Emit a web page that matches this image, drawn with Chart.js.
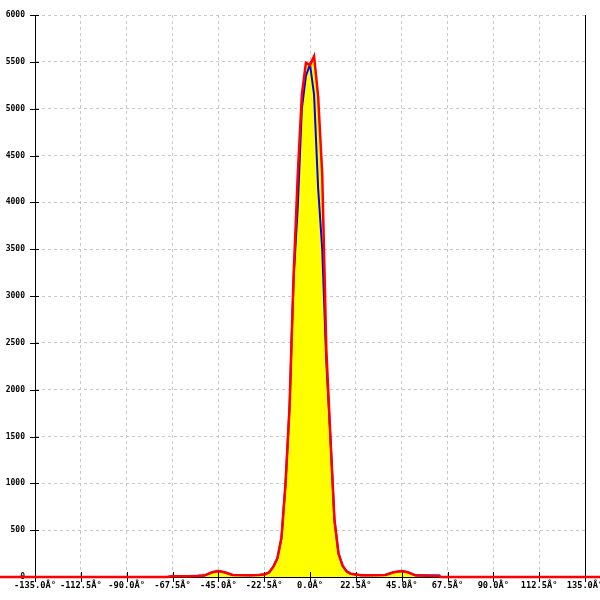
<!DOCTYPE html>
<html>
<head>
<meta charset="utf-8">
<script src="https://cdn.jsdelivr.net/npm/chart.js@4/dist/chart.umd.min.js"></script>
<style>
  html, body { margin: 0; padding: 0; background: #fff; }
  #wrap { width: 600px; height: 600px; }
</style>
</head>
<body>
<div id="wrap"><canvas id="c" width="600" height="600"></canvas></div>
<script>
// angle (deg) and intensity readings
const redAngles = [-180, -70, -67.5, -60, -55, -52, -48, -45, -42, -38, -30, -25, -22, -20, -18, -16, -14, -12, -10, -9, -8, -6, -4, -2, 0, 2, 4, 6, 8, 10, 12, 14, 16, 18, 20, 25, 30, 37, 41, 45, 48, 52, 63.5, 64, 180];
const redValues = [0, 0, 8, 8, 10, 15, 50, 65, 50, 22, 20, 22, 30, 50, 110, 200, 420, 1000, 1830, 2550, 3250, 4300, 5150, 5490, 5465, 5560, 5130, 4300, 2440, 1500, 610, 250, 120, 60, 35, 20, 20, 22, 50, 65, 50, 15, 12, 0, 0];

const blueAngles = [-180, -70, -67.5, -60, -55, -52, -48, -45, -42, -38, -30, -25, -22, -20, -18, -16, -14, -12, -10, -9, -8, -6, -4, -2, 0, 2, 4, 6, 8, 10, 12, 14, 16, 18, 20, 25, 30, 37, 41, 45, 48, 52, 63.5, 64, 180];
const blueValues = [0, 0, 12, 12, 14, 15, 50, 65, 50, 22, 20, 22, 30, 50, 110, 200, 420, 1000, 1830, 2550, 3200, 3950, 5000, 5350, 5475, 5150, 4150, 3500, 2300, 1500, 610, 250, 120, 60, 35, 20, 20, 22, 50, 65, 50, 18, 16, 0, 0];

const xTicks = [-135, -112.5, -90, -67.5, -45, -22.5, 0, 22.5, 45, 67.5, 90, 112.5, 135];

const toPts = (xs, ys) => xs.map((x, i) => ({ x: x, y: ys[i] }));

// tick marks that cross the axis lines
const crossTicks = {
  id: 'crossTicks',
  beforeDatasetsDraw(chart) {
    const ctx = chart.ctx, xs = chart.scales.x, ys = chart.scales.y;
    ctx.save();
    ctx.strokeStyle = '#000';
    ctx.lineWidth = 1;
    ctx.beginPath();
    xs.ticks.forEach(t => {
      const px = Math.round(xs.getPixelForValue(t.value)) + 0.5;
      ctx.moveTo(px, ys.bottom - 5);
      ctx.lineTo(px, ys.bottom + 5);
    });
    ys.ticks.forEach(t => {
      const py = Math.round(ys.getPixelForValue(t.value)) + 0.5;
      ctx.moveTo(xs.left - 5, py);
      ctx.lineTo(xs.left + 4, py);
    });
    ctx.stroke();
    ctx.restore();
  }
};

new Chart(document.getElementById('c').getContext('2d'), {
  type: 'line',
  data: {
    datasets: [{
      data: toPts(redAngles, redValues),
      borderColor: '#ff0000',
      borderWidth: 2.5,
      backgroundColor: '#ffff00',
      fill: 'origin',
      pointRadius: 0,
      tension: 0,
      clip: false,
      order: 0
    }, {
      data: toPts(blueAngles, blueValues),
      borderColor: '#0000ff',
      borderWidth: 2,
      fill: false,
      pointRadius: 0,
      tension: 0,
      clip: false,
      order: 1
    }]
  },
  plugins: [crossTicks],
  options: {
    responsive: false,
    animation: false,
    layout: { padding: { top: 15, left: 0, right: 0, bottom: 0 } },
    plugins: {
      legend: { display: false },
      tooltip: { enabled: false },
      filler: { drawTime: 'beforeDatasetsDraw' }
    },
    scales: {
      x: {
        type: 'linear',
        min: -135,
        max: 135,
        afterBuildTicks: s => { s.ticks = xTicks.map(v => ({ value: v })); },
        afterFit: s => { s.height = 23; s.paddingLeft = 0; s.paddingRight = 0; },
        ticks: {
          color: '#000',
          font: { family: 'DejaVu Sans Mono', size: 8.7, weight: 'bold' },
          padding: 2,
          maxRotation: 0,
          autoSkip: false,
          callback: v => v.toFixed(1) + 'Â°'
        },
        grid: { color: '#c8c8c8', tickColor: 'rgba(0,0,0,0)', tickLength: 2 },
        border: { color: '#000', width: 1, dash: [3, 3] }
      },
      y: {
        min: 0,
        max: 6000,
        afterFit: s => { s.width = 35; s.paddingTop = 0; s.paddingBottom = 0; },
        ticks: {
          stepSize: 500,
          color: '#000',
          font: { family: 'DejaVu Sans Mono', size: 8, weight: 'bold' },
          padding: 5,
          callback: v => String(v)
        },
        grid: { color: '#c8c8c8', tickColor: 'rgba(0,0,0,0)', tickLength: 5 },
        border: { color: '#000', width: 1, dash: [3, 3] }
      },
      y2: {
        position: 'right',
        min: 0,
        max: 6000,
        afterFit: s => { s.width = 15; },
        ticks: { display: false },
        grid: { drawOnChartArea: false, drawTicks: false },
        border: { color: '#000', width: 1 }
      }
    }
  }
});
</script>
</body>
</html>
